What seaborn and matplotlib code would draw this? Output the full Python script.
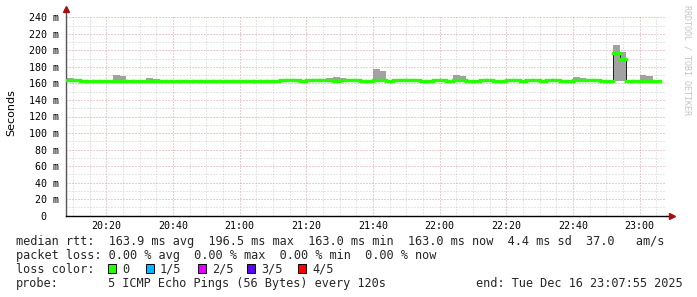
import numpy as np
import pandas as pd
import matplotlib
matplotlib.use("Agg")
import matplotlib.pyplot as plt
import matplotlib.dates as mdates
import seaborn as sns
from matplotlib.patches import Rectangle

# ---------------- data ----------------
first_step = "2025-12-16 20:08:00"
step_minutes = 2
window_start = "2025-12-16 20:07:55"
window_end = "2025-12-16 23:07:55"

median_ms = [
    164.0, 164.0, 163.0, 163.0, 163.0, 163.0, 163.0, 163.0, 163.0, 163.0,
    163.0, 163.0, 163.0, 163.0, 163.0, 163.0, 163.0, 163.0, 163.0, 163.0,
    163.0, 163.0, 163.0, 163.0, 163.0, 163.0, 163.0, 163.0, 163.0, 163.0,
    163.0, 163.0, 164.0, 164.0, 164.0, 163.0, 164.0, 164.0, 164.0, 164.0,
    163.0, 164.0, 164.0, 164.0, 163.0, 163.0, 164.0, 164.0, 163.0, 164.0,
    164.0, 164.0, 164.0, 163.0, 163.0, 164.0, 164.0, 163.0, 164.0, 164.0,
    163.0, 163.0, 164.0, 164.0, 163.0, 163.0, 164.0, 164.0, 163.0, 164.0,
    164.0, 163.0, 164.0, 164.0, 163.0, 163.0, 164.0, 164.0, 164.0, 164.0,
    163.0, 163.0, 196.5, 190.0, 163.0, 163.0, 163.0, 163.0, 163.0,
]
smoke_max_ms = [
    166.6, 165.4, 163.0, 163.0, 163.0, 163.0, 163.0, 170.5, 169.3, 163.0,
    163.0, 163.0, 166.6, 165.4, 163.0, 163.0, 163.0, 163.0, 163.0, 163.0,
    163.0, 163.0, 163.0, 163.0, 163.0, 163.0, 163.0, 163.0, 163.0, 163.0,
    163.0, 163.0, 164.0, 164.0, 164.0, 163.0, 164.0, 164.0, 164.0, 166.6,
    168.1, 166.6, 165.4, 164.0, 163.0, 163.0, 177.4, 175.1, 163.0, 164.0,
    164.0, 164.0, 164.0, 163.0, 163.0, 164.0, 164.0, 163.0, 170.5, 169.3,
    163.0, 163.0, 164.0, 164.0, 163.0, 163.0, 164.0, 164.0, 163.0, 164.0,
    164.0, 163.0, 164.0, 164.0, 163.0, 163.0, 168.1, 166.6, 164.0, 164.0,
    163.0, 163.0, 206.5, 198.0, 163.0, 163.0, 170.5, 169.3, 163.0,
]
smoke_min_ms = [
    164.0, 164.0, 163.0, 163.0, 163.0, 163.0, 163.0, 163.0, 163.0, 163.0,
    163.0, 163.0, 163.0, 163.0, 163.0, 163.0, 163.0, 163.0, 163.0, 163.0,
    163.0, 163.0, 163.0, 163.0, 163.0, 163.0, 163.0, 163.0, 163.0, 163.0,
    163.0, 163.0, 164.0, 164.0, 164.0, 163.0, 164.0, 164.0, 164.0, 164.0,
    163.0, 164.0, 164.0, 164.0, 163.0, 163.0, 164.0, 164.0, 163.0, 164.0,
    164.0, 164.0, 164.0, 163.0, 163.0, 164.0, 164.0, 163.0, 164.0, 164.0,
    163.0, 163.0, 164.0, 164.0, 163.0, 163.0, 164.0, 164.0, 163.0, 164.0,
    164.0, 163.0, 164.0, 164.0, 163.0, 163.0, 164.0, 164.0, 164.0, 164.0,
    163.0, 163.0, 163.0, 163.0, 163.0, 163.0, 163.0, 163.0, 163.0,
]
y_ticks = [0, 20, 40, 60, 80, 100, 120, 140, 160, 180, 200, 220, 240]
y_tick_labels = ["0  ", "20 m", "40 m", "60 m", "80 m", "100 m", "120 m",
                 "140 m", "160 m", "180 m", "200 m", "220 m", "240 m"]
y_label = "Seconds"
watermark = "RRDTOOL / TOBI OETIKER"
line_rtt = "median rtt:  163.9 ms avg  196.5 ms max  163.0 ms min  163.0 ms now  4.4 ms sd  37.0   am/s"
line_loss = "packet loss: 0.00 % avg  0.00 % max  0.00 % min  0.00 % now"
loss_title = "loss color:"
loss_labels = ["0", "1/5", "2/5", "3/5", "4/5"]
loss_colors = ["#26ff00", "#00b8ff", "#dd00ff", "#5e00ff", "#ff0000"]
probe_title = "probe:"
probe_text = "5 ICMP Echo Pings (56 Bytes) every 120s"
end_text = "end: Tue Dec 16 23:07:55 2025"

# ---------------- layout ----------------
W, H = 697, 297
def fx(x):
    return x / W
def fy(y):
    return 1 - y / H

sns.set_theme(style="white")
plt.rcParams['font.family'] = ['DejaVu Sans Mono', 'DejaVu Sans']

fig = plt.figure(figsize=(W / 100, H / 100), dpi=100)
fig.patch.set_facecolor("white")
ax = fig.add_axes([fx(66), fy(215.7), 600 / W, 198.4 / H])
ax.set_facecolor("white")

t_steps = pd.date_range(first_step, periods=len(median_ms), freq=f"{step_minutes}min")
t_edges = pd.date_range(first_step, periods=len(median_ms) + 1, freq=f"{step_minutes}min")
step = pd.Timedelta(minutes=step_minutes)

# smoke
ax.fill_between(t_edges, smoke_min_ms + [smoke_min_ms[-1]], smoke_max_ms + [smoke_max_ms[-1]],
                step="post", color="#a2a2a2", linewidth=0, zorder=2)

# dark median step line
df = pd.DataFrame({"t": t_edges, "median": median_ms + [median_ms[-1]]})
sns.lineplot(data=df, x="t", y="median", drawstyle="steps-post", estimator=None,
             color="#202020", linewidth=0.7, ax=ax, zorder=3)
# loss-coloured median (0 loss)
ax.hlines(median_ms, t_steps, t_steps + step, colors=loss_colors[0], linewidth=2.4,
          zorder=4, capstyle="projecting")

ax.set_xlim(pd.Timestamp(window_start), pd.Timestamp(window_end))
ax.set_ylim(0, 240)
ax.set_xlabel("")
ax.set_ylabel("")

ax.set_yticks(y_ticks)
ax.set_yticklabels(y_tick_labels)
ax.set_yticks(np.arange(10, 240, 20), minor=True)
ax.xaxis.set_major_locator(mdates.MinuteLocator(byminute=[0, 20, 40]))
ax.xaxis.set_minor_locator(mdates.MinuteLocator(byminute=range(0, 60, 5)))
ax.xaxis.set_major_formatter(mdates.DateFormatter("%H:%M"))

ax.tick_params(axis="both", which="major", labelsize=7.2, colors="#000000",
               length=2.2, width=0.7, pad=3)
ax.tick_params(axis="x", which="major", pad=1.5)
ax.tick_params(axis="x", which="minor", length=1.5, width=0.7, color="#000000")
ax.tick_params(axis="y", which="minor", length=0)
ax.tick_params(axis="y", which="major", length=2.2, color="#404040")

ax.grid(which="minor", axis="both", color="#cfcfcf", linewidth=0.72, linestyle=(0, (1, 2)))
ax.grid(which="major", axis="both", color="#e49a9a", linewidth=0.72, linestyle=(0, (1, 2)))
ax.set_axisbelow(True)

for s in ["top", "right"]:
    ax.spines[s].set_visible(False)
ax.spines["left"].set_color("#555555")
ax.spines["left"].set_linewidth(1.0)
ax.spines["bottom"].set_color("#000000")
ax.spines["bottom"].set_linewidth(1.0)

# axis arrows
ax.plot([0, 0], [1, 1 + 7 / 198.4], color="#555555", lw=1.0, transform=ax.transAxes, clip_on=False)
ax.plot([0], [1 + 8.5 / 198.4], marker="^", ms=4, color="#a01010", mec="#a01010",
        transform=ax.transAxes, clip_on=False)
ax.plot([1, 1 + 3 / 600], [0, 0], color="#000000", lw=1.0, transform=ax.transAxes, clip_on=False)
ax.plot([1 + 6 / 600], [0], marker=">", ms=4, color="#a01010", mec="#a01010",
        transform=ax.transAxes, clip_on=False)

# y label & watermark
fig.text(fx(11), fy(113), y_label, rotation=90, ha="center", va="center",
         fontsize=8, family=["DejaVu Sans"], color="#000000")
fig.text(fx(687), fy(60), watermark, rotation=270, ha="center", va="center",
         fontsize=6, color="#c4c4c4")

# legend lines
lfs = 8.54
fig.text(fx(16), fy(244.7), line_rtt, fontsize=lfs, va="baseline", ha="left")
fig.text(fx(16), fy(258.7), line_loss, fontsize=lfs, va="baseline", ha="left")
fig.text(fx(16), fy(272.7), loss_title, fontsize=lfs, va="baseline", ha="left")
box_x = [108.3, 145.7, 198.3, 247.3, 298.3]
for bx, lab, col in zip(box_x, loss_labels, loss_colors):
    fig.patches.append(Rectangle((fx(bx), fy(272.7)), 8 / W, 8.4 / H, transform=fig.transFigure,
                                 facecolor=col, edgecolor="#000000", linewidth=0.7))
    fig.text(fx(bx + 14.3), fy(272.7), lab, fontsize=lfs, va="baseline", ha="left")
fig.text(fx(16), fy(286.7), probe_title, fontsize=lfs, va="baseline", ha="left")
fig.text(fx(108), fy(286.7), probe_text, fontsize=lfs, va="baseline", ha="left")
fig.text(fx(683), fy(286.7), end_text, fontsize=lfs, va="baseline", ha="right")

fig.savefig("out.png", dpi=100, facecolor="white")
